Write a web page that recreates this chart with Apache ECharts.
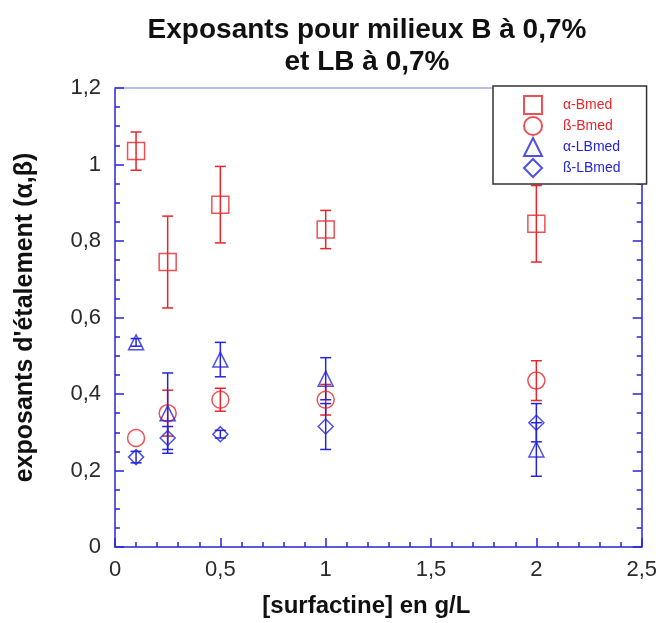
<!DOCTYPE html>
<html>
<head>
<meta charset="utf-8">
<script src="https://cdn.jsdelivr.net/npm/echarts@6/dist/echarts.min.js"></script>
<style>html,body{margin:0;padding:0;background:#fff}#c{width:660px;height:623px}</style>
</head>
<body>
<div id="c"></div>
<script>
// ---- data ----
var xValues = [0.1, 0.25, 0.5, 1, 2];
var alphaB = [1.035, 0.745, 0.895, 0.83, 0.845];
var alphaBErr = [0.05, 0.12, 0.1, 0.05, 0.1];
var betaB = [0.285, 0.35, 0.385, 0.385, 0.435];
var betaBErr = [0, 0.06, 0.03, 0.04, 0.052];
var alphaLB = [0.535, 0.35, 0.49, 0.44, 0.255];
var alphaLBErr = [0.01, 0.105, 0.045, 0.055, 0.07];
var betaLB = [0.235, 0.285, 0.295, 0.315, 0.325];
var betaLBErr = [0.015, 0.03, 0.01, 0.06, 0.05];
var seriesNames = ['\u03b1-Bmed', '\u00df-Bmed', '\u03b1-LBmed', '\u00df-LBmed'];
var titleText = 'Exposants pour milieux B \u00e0 0,7%\net LB \u00e0 0,7%';
var xName = '[surfactine] en g/L';
var yName = "exposants d'\u00e9talement (\u03b1,\u03b2)";

var RED = '#e8262a', BLUE = '#2424dc';
var FONT = "'Liberation Sans', Arial, sans-serif";

function pts(ys) { return xValues.map(function (x, i) { return [x, ys[i]]; }); }
function errPts(ys, es) {
  var out = [];
  xValues.forEach(function (x, i) { if (es[i] > 0) out.push([x, ys[i] - es[i], ys[i] + es[i]]); });
  return out;
}
function errSeries(ys, es, color) {
  return {
    type: 'custom', xAxisIndex: 0, yAxisIndex: 0, silent: true, z: 3,
    data: errPts(ys, es),
    renderItem: function (params, api) {
      var x = api.value(0);
      var lo = api.coord([x, api.value(1)]);
      var hi = api.coord([x, api.value(2)]);
      var w = 5.5;
      var st = { stroke: color, lineWidth: 1.5 };
      return { type: 'group', children: [
        { type: 'line', shape: { x1: lo[0], y1: lo[1], x2: hi[0], y2: hi[1] }, style: st },
        { type: 'line', shape: { x1: lo[0] - w, y1: lo[1], x2: lo[0] + w, y2: lo[1] }, style: st },
        { type: 'line', shape: { x1: hi[0] - w, y1: hi[1], x2: hi[0] + w, y2: hi[1] }, style: st }
      ]};
    }
  };
}
function scat(name, ys, symbol, size, color) {
  return {
    type: 'scatter', name: name, data: pts(ys), symbol: symbol, symbolSize: size, z: 4,
    itemStyle: { color: 'rgba(0,0,0,0)', borderColor: color, borderWidth: 1.5 }
  };
}
function comma(v) { return String(v).replace('.', ','); }

var chart = echarts.init(document.getElementById('c'), null, { renderer: 'canvas' });
chart.setOption({
  animation: false,
  backgroundColor: '#fff',
  textStyle: { fontFamily: FONT },
  title: {
    text: titleText, left: 362, top: 9, textAlign: 'center',
    textStyle: { fontFamily: FONT, fontSize: 28, fontWeight: 'bold', color: '#111', lineHeight: 32 }
  },
  legend: {
    orient: 'vertical', left: 493, top: 86,
    backgroundColor: '#fff', borderColor: '#333', borderWidth: 1.5, borderRadius: 0,
    padding: [9, 26, 6, 30], itemGap: 1, itemWidth: 18, itemHeight: 18,
    textStyle: { fontFamily: FONT, fontSize: 14, padding: [0, 0, 0, 16] },
    data: [
      { name: seriesNames[0], textStyle: { color: RED } },
      { name: seriesNames[1], textStyle: { color: RED } },
      { name: seriesNames[2], textStyle: { color: BLUE } },
      { name: seriesNames[3], textStyle: { color: BLUE } }
    ]
  },
  grid: { left: 115, right: 17, top: 88, bottom: 72 },
  xAxis: [{
    type: 'value', min: 0, max: 2.5, interval: 0.5, position: 'bottom',
    name: xName, nameLocation: 'middle', nameGap: 47,
    nameTextStyle: { fontFamily: FONT, fontSize: 24, fontWeight: 'bold', color: '#111', padding: [0, 24, 0, 0] },
    axisLine: { show: true, onZero: false, lineStyle: { color: BLUE, width: 1.5 } },
    axisTick: { show: true, inside: true, length: 9, lineStyle: { color: BLUE, width: 1.5 } },
    minorTick: { show: true, splitNumber: 5, length: 5, lineStyle: { color: BLUE, width: 1.5 } },
    splitLine: { show: false },
    axisLabel: { fontFamily: FONT, fontSize: 22, color: '#2a2a2a', margin: 12, formatter: comma }
  }, {
    type: 'value', min: 0, max: 2.5, interval: 0.5, position: 'top',
    axisLine: { show: true, onZero: false, lineStyle: { color: '#a8a8ee', width: 1.5 } },
    axisTick: { show: false }, axisLabel: { show: false }, splitLine: { show: false }
  }],
  yAxis: [{
    type: 'value', min: 0, max: 1.2, interval: 0.2, position: 'left',
    name: yName, nameLocation: 'middle', nameGap: 77,
    nameTextStyle: { fontFamily: FONT, fontSize: 25, fontWeight: 'bold', color: '#111' },
    axisLine: { show: true, onZero: false, lineStyle: { color: BLUE, width: 1.5 } },
    axisTick: { show: true, inside: true, length: 9, lineStyle: { color: BLUE, width: 1.5 } },
    minorTick: { show: true, splitNumber: 4, length: 5, lineStyle: { color: BLUE, width: 1.5 } },
    splitLine: { show: false },
    axisLabel: { fontFamily: FONT, fontSize: 22, color: '#2a2a2a', margin: 14, formatter: comma }
  }, {
    type: 'value', min: 0, max: 1.2, interval: 0.2, position: 'right',
    axisLine: { show: true, onZero: false, lineStyle: { color: BLUE, width: 1.5 } },
    axisTick: { show: true, inside: true, length: 9, lineStyle: { color: BLUE, width: 1.5 } },
    minorTick: { show: true, splitNumber: 4, length: 5, lineStyle: { color: BLUE, width: 1.5 } },
    axisLabel: { show: false }, splitLine: { show: false }
  }],
  series: [
    errSeries(alphaB, alphaBErr, RED),
    errSeries(betaB, betaBErr, RED),
    errSeries(alphaLB, alphaLBErr, BLUE),
    errSeries(betaLB, betaLBErr, BLUE),
    scat(seriesNames[0], alphaB, 'rect', 17, RED),
    scat(seriesNames[1], betaB, 'circle', 17, RED),
    scat(seriesNames[2], alphaLB, 'triangle', 15, BLUE),
    scat(seriesNames[3], betaLB, 'diamond', 15, BLUE)
  ]
});
</script>
</body>
</html>
